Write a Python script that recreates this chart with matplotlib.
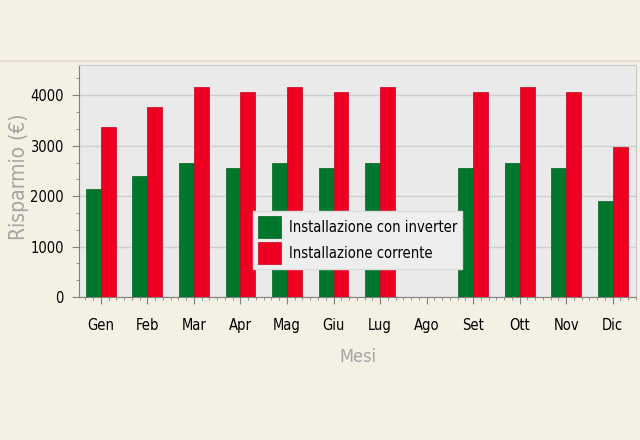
import numpy as np
import matplotlib
matplotlib.use("Agg")
import matplotlib.pyplot as plt
from matplotlib.ticker import MultipleLocator
from matplotlib.lines import Line2D

mesi = ['Gen', 'Feb', 'Mar', 'Apr', 'Mag', 'Giu', 'Lug', 'Ago', 'Set', 'Ott', 'Nov', 'Dic']
inverter = [2140, 2400, 2650, 2550, 2650, 2550, 2650, 0, 2550, 2650, 2550, 1900]
corrente = [3370, 3760, 4160, 4060, 4160, 4060, 4160, 0, 4060, 4160, 4060, 2970]

plt.rcParams['font.family'] = ['DejaVu Sans']
plt.rcParams['font.stretch'] = 'condensed'

fig = plt.figure(figsize=(6.4, 4.4), dpi=100, facecolor='#F4F0E4')
ax = fig.add_axes([0.1234, 0.325, 0.8703, 0.5273])
ax.set_facecolor('#EAEAEA')

# thin separator line above the plot
fig.add_artist(Line2D([0, 1], [0.861, 0.861], color='#E4DFD2', lw=1.5))

x = np.arange(len(mesi))
w = 0.32
ax.bar(x - w / 2, inverter, w, color='#00772D', edgecolor='#005F22', lw=0.5,
       label='Installazione con inverter', zorder=3)
ax.bar(x + w / 2, corrente, w, color='#EE0022', edgecolor='#C4001A', lw=0.5,
       label='Installazione corrente', zorder=3)

ax.set_xlim(-0.47, 11.5)
ax.set_ylim(0, 4600)
ax.set_xticks(x)
ax.set_xticklabels(mesi)
ax.set_yticks([0, 1000, 2000, 3000, 4000])
ax.yaxis.set_minor_locator(MultipleLocator(1000 / 3))
ax.xaxis.set_minor_locator(MultipleLocator(1 / 6))
ax.grid(axis='y', which='major', color='#CFCFCF', lw=1, zorder=0)

for s in ['top', 'right']:
    ax.spines[s].set_color('#C8C8C8')
for s in ['left', 'bottom']:
    ax.spines[s].set_color('#808080')
ax.tick_params(which='major', length=5, color='#808080', labelsize=10.5, pad=6)
ax.tick_params(which='minor', length=2.5, color='#808080')
ax.tick_params(axis='x', pad=10)

ax.set_ylabel('Risparmio (€)', color='#A4A4A4', fontsize=15)
ax.yaxis.set_label_coords(-0.09, 0.52)
ax.set_xlabel('Mesi', color='#A4A4A4', fontsize=13, labelpad=11)

leg = ax.legend(loc='center', bbox_to_anchor=(0.5, 0.245), fontsize=10.5,
                handlelength=1.6, handleheight=1.9, fancybox=False,
                framealpha=1, facecolor='#EEEEEE', edgecolor='#DDDDDD',
                borderpad=0.35, labelspacing=0.3, handletextpad=0.5)
leg.set_zorder(5)

fig.savefig('out.png', dpi=100, facecolor=fig.get_facecolor())
